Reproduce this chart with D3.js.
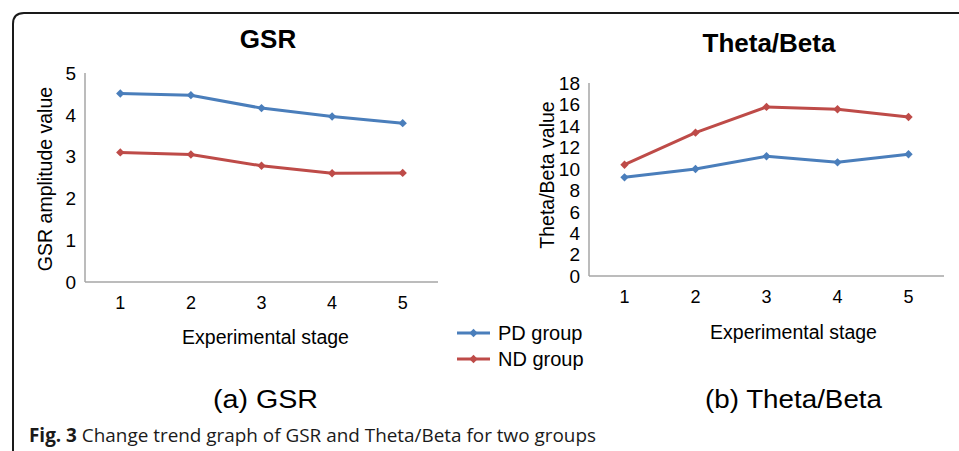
<!DOCTYPE html>
<html>
<head>
<meta charset="utf-8">
<script src="https://cdn.jsdelivr.net/npm/d3@7"></script>
<style>
  body { margin: 0; background: #fff; }
  svg { display: block; font-family: "Liberation Sans", Arial, sans-serif; }
</style>
</head>
<body>
<div id="chart"></div>
<script>
// Data
var stages = [1, 2, 3, 4, 5];
var gsrPD = [4.51, 4.47, 4.16, 3.96, 3.80];
var gsrND = [3.10, 3.05, 2.78, 2.60, 2.61];
var tbPD = [9.2, 9.98, 11.17, 10.6, 11.35];
var tbND = [10.38, 13.37, 15.77, 15.55, 14.83];
var gsrTicks = [0, 1, 2, 3, 4, 5];
var tbTicks = [0, 2, 4, 6, 8, 10, 12, 14, 16, 18];
var groups = ["PD group", "ND group"];
var colors = ["#4a7ebb", "#be4b48"];

var width = 959, height = 451;

var svg = d3.select("#chart").append("svg")
	.attr("width", width)
	.attr("height", height);

// Frame around the figure (rounded top-left corner, runs off right/bottom)
svg.append("path")
	.attr("d", "M13," + (height + 5) + " L13,24 Q13,13 24,13 L" + (width + 5) + ",13")
	.attr("fill", "none")
	.attr("stroke", "#1a1a1a")
	.attr("stroke-width", 2);

var diamond = d3.symbol().type(d3.symbolDiamond2 || d3.symbolDiamond).size(45);

function drawPanel(opts) {
	var g = svg.append("g").attr("id", opts.id);

	var x = d3.scaleBand()
		.domain(stages)
		.range([opts.left, opts.right]);
	var y = d3.scaleLinear()
		.domain([0, opts.max])
		.range([opts.bottom, opts.top]);

	// title
	g.append("text")
		.attr("x", opts.titleX)
		.attr("y", opts.titleY)
		.attr("text-anchor", "middle")
		.attr("font-size", 26)
		.attr("font-weight", "bold")
		.text(opts.title);

	// axes
	g.append("line")
		.attr("x1", opts.left).attr("x2", opts.left)
		.attr("y1", opts.top).attr("y2", opts.bottom)
		.attr("stroke", "#a6a6a6").attr("stroke-width", 1.5);
	g.append("line")
		.attr("x1", opts.left).attr("x2", opts.right)
		.attr("y1", opts.bottom).attr("y2", opts.bottom)
		.attr("stroke", "#a6a6a6").attr("stroke-width", 1.5);

	g.selectAll(".ytick")
		.data(opts.ticks)
		.enter().append("text")
		.attr("class", "ytick")
		.attr("x", opts.left - 9)
		.attr("y", function(d){ return y(d); })
		.attr("dy", "0.36em")
		.attr("text-anchor", "end")
		.attr("font-size", 19)
		.text(function(d){ return d; });

	g.selectAll(".xtick")
		.data(stages)
		.enter().append("text")
		.attr("class", "xtick")
		.attr("x", function(d){ return x(d) + x.bandwidth() / 2; })
		.attr("y", opts.bottom + opts.xTickGap)
		.attr("text-anchor", "middle")
		.attr("font-size", 18)
		.text(function(d){ return d; });

	g.append("text")
		.attr("x", (opts.left + opts.right) / 2 + opts.xLabelShift)
		.attr("y", opts.xLabelY)
		.attr("text-anchor", "middle")
		.attr("font-size", 19.5)
		.text("Experimental stage");

	g.append("text")
		.attr("transform", "translate(" + opts.yLabelX + "," + opts.yLabelY + ") rotate(-90)")
		.attr("text-anchor", "middle")
		.attr("font-size", 19.5)
		.text(opts.yLabel);

	var line = d3.line()
		.x(function(d, i){ return x(stages[i]) + x.bandwidth() / 2; })
		.y(function(d){ return y(d); });

	opts.series.forEach(function(s, k){
		g.append("path")
			.datum(s)
			.attr("d", line)
			.attr("fill", "none")
			.attr("stroke", colors[k])
			.attr("stroke-width", 3)
			.attr("stroke-linejoin", "round");
		g.selectAll(".pt" + k)
			.data(s)
			.enter().append("path")
			.attr("class", "pt" + k)
			.attr("d", diamond)
			.attr("transform", function(d, i){
				return "translate(" + (x(stages[i]) + x.bandwidth() / 2) + "," + y(d) + ")";
			})
			.attr("fill", colors[k]);
	});

	// sub caption (slightly wide lettering in the original)
	g.append("text")
		.attr("x", opts.capX)
		.attr("y", opts.capY)
		.attr("text-anchor", "middle")
		.attr("font-size", 25.5)
		.attr("textLength", opts.capW)
		.attr("lengthAdjust", "spacingAndGlyphs")
		.text(opts.caption);
}

drawPanel({
	id: "gsr", title: "GSR", titleX: 268, titleY: 48,
	left: 85, right: 438, top: 73, bottom: 282, max: 5,
	ticks: gsrTicks, xTickGap: 27, xLabelY: 344, xLabelShift: 4,
	yLabel: "GSR amplitude value", yLabelX: 52, yLabelY: 179,
	series: [gsrPD, gsrND],
	caption: "(a) GSR", capX: 265.5, capY: 408, capW: 105
});

drawPanel({
	id: "tb", title: "Theta/Beta", titleX: 769, titleY: 52,
	left: 589, right: 944, top: 83, bottom: 276, max: 18,
	ticks: tbTicks, xTickGap: 27, xLabelY: 339, xLabelShift: 27,
	yLabel: "Theta/Beta value", yLabelX: 554, yLabelY: 175,
	series: [tbPD, tbND],
	caption: "(b) Theta/Beta", capX: 793.5, capY: 408, capW: 177
});

// Legend
var legend = svg.append("g").attr("id", "legend");
groups.forEach(function(name, k){
	var ly = 333 + k * 26;
	legend.append("line")
		.attr("x1", 457).attr("x2", 490)
		.attr("y1", ly).attr("y2", ly)
		.attr("stroke", colors[k]).attr("stroke-width", 3);
	legend.append("path")
		.attr("d", diamond)
		.attr("transform", "translate(473.5," + ly + ")")
		.attr("fill", colors[k]);
	legend.append("text")
		.attr("x", 498)
		.attr("y", ly)
		.attr("dy", "0.36em")
		.attr("font-size", 20)
		.text(name);
});

// Figure caption
var cap = svg.append("text")
	.attr("x", 29)
	.attr("y", 442)
	.attr("font-family", "'Open Sans', sans-serif")
	.attr("font-size", 19)
	.attr("fill", "#1a1a1a")
	.attr("textLength", 567)
	.attr("lengthAdjust", "spacingAndGlyphs");
cap.append("tspan").attr("font-weight", "bold").text("Fig. 3");
cap.append("tspan").text(" Change trend graph of GSR and Theta/Beta for two groups");
</script>
</body>
</html>
